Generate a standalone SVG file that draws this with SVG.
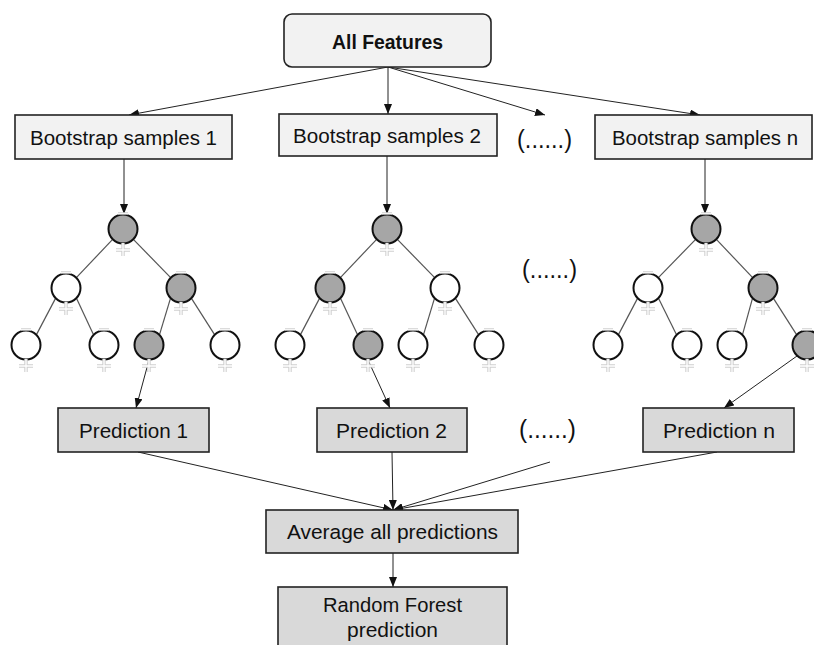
<svg xmlns="http://www.w3.org/2000/svg" xmlns:xlink="http://www.w3.org/1999/xlink" width="814" height="645" viewBox="0 0 814 645">
<style>
  .box{stroke:#222;stroke-width:1.6}
  .light{fill:#f2f2f2}
  .dark{fill:#d9d9d9}
  .t{font-family:"Liberation Sans",Arial,sans-serif;font-size:20.5px;fill:#111;text-anchor:middle}
  .b{font-weight:bold;font-size:19.5px}
  .dots{font-size:25px}
  .arrow{stroke:#222;stroke-width:1;fill:none;marker-end:url(#ah)}
  .edge{stroke:#555;stroke-width:1.2;fill:none}
  .nw{fill:#fff;stroke:#111;stroke-width:2}
  .ng{fill:#a6a6a6;stroke:#111;stroke-width:2}
</style>
<defs>
  <marker id="ah" markerWidth="10" markerHeight="8" refX="10" refY="4" orient="auto" markerUnits="userSpaceOnUse">
    <path d="M0,0 L10,4 L0,8 Z" fill="#111"/>
  </marker>
  <g id="mk">
    <path d="M-5,-15.5 H5" stroke="#cfcfcf" stroke-width="2.5"/>
    <path d="M-5,-15.5 H5" stroke="#fff" stroke-width="0.8"/>
    <path d="M0,14 V27 M-7,21 H7" stroke="#cfcfcf" stroke-width="3.4"/>
    <path d="M0,14 V27 M-7,21 H7" stroke="#fff" stroke-width="1.3"/>
  </g>
</defs>

<g id="connectors">
  <line class="arrow" x1="388" y1="67" x2="129" y2="115"/>
  <line class="arrow" x1="388" y1="67" x2="388" y2="114"/>
  <line class="arrow" x1="388" y1="67" x2="545" y2="115"/>
  <line class="arrow" x1="388" y1="67" x2="700" y2="115"/>
  <line class="arrow" x1="124" y1="159" x2="124" y2="214"/>
  <line class="arrow" x1="387" y1="156" x2="387" y2="214"/>
  <line class="arrow" x1="705" y1="159" x2="705" y2="214"/>
  <line class="edge" x1="112.4" y1="239.6" x2="76.6" y2="277.4"/>
  <line class="edge" x1="133.6" y1="239.6" x2="170.4" y2="277.4"/>
  <line class="edge" x1="55.4" y1="298.6" x2="36.6" y2="334.4"/>
  <line class="edge" x1="76.6" y1="298.6" x2="93.4" y2="334.4"/>
  <line class="edge" x1="170.4" y1="298.6" x2="159.6" y2="334.4"/>
  <line class="edge" x1="191.6" y1="298.6" x2="214.4" y2="334.4"/>
  <line class="edge" x1="376.4" y1="239.6" x2="340.6" y2="277.4"/>
  <line class="edge" x1="397.6" y1="239.6" x2="434.4" y2="277.4"/>
  <line class="edge" x1="319.4" y1="298.6" x2="300.6" y2="334.4"/>
  <line class="edge" x1="340.6" y1="298.6" x2="357.4" y2="334.4"/>
  <line class="edge" x1="434.4" y1="298.6" x2="423.6" y2="334.4"/>
  <line class="edge" x1="455.6" y1="298.6" x2="478.4" y2="334.4"/>
  <line class="edge" x1="695.4" y1="239.6" x2="658.6" y2="277.4"/>
  <line class="edge" x1="716.6" y1="239.6" x2="752.4" y2="277.4"/>
  <line class="edge" x1="637.4" y1="298.6" x2="618.6" y2="334.4"/>
  <line class="edge" x1="658.6" y1="298.6" x2="676.4" y2="334.4"/>
  <line class="edge" x1="752.4" y1="298.6" x2="742.6" y2="334.4"/>
  <line class="edge" x1="773.6" y1="298.6" x2="796.4" y2="334.4"/>
  <line class="arrow" x1="149" y1="360" x2="136" y2="408"/>
  <line class="arrow" x1="368" y1="360" x2="390" y2="408"/>
  <line class="arrow" x1="797" y1="356" x2="724" y2="408"/>
  <line class="arrow" x1="138" y1="452" x2="393" y2="510"/>
  <line class="arrow" x1="392" y1="452" x2="393" y2="510"/>
  <line class="arrow" x1="550" y1="462" x2="393" y2="510"/>
  <line class="arrow" x1="717" y1="452" x2="393" y2="510"/>
  <line class="arrow" x1="393" y1="553" x2="393" y2="587"/>
</g>

<g id="all-features">
  <rect class="box light" x="284" y="14" width="207" height="53" rx="8"/>
  <text class="t b" x="387.5" y="49" textLength="111" lengthAdjust="spacingAndGlyphs">All Features</text>
</g>
<g id="bootstrap-1">
  <rect class="box light" x="15" y="115" width="217" height="44"/>
  <text class="t" x="123.5" y="145" textLength="187" lengthAdjust="spacingAndGlyphs">Bootstrap samples 1</text>
</g>
<g id="bootstrap-2">
  <rect class="box light" x="279" y="114" width="218" height="42"/>
  <text class="t" x="387" y="143" textLength="188" lengthAdjust="spacingAndGlyphs">Bootstrap samples 2</text>
</g>
<g id="dots-top">
  <text class="t dots" x="544.5" y="148" textLength="55" lengthAdjust="spacingAndGlyphs">(......)</text>
</g>
<g id="bootstrap-n">
  <rect class="box light" x="595" y="115" width="217" height="44"/>
  <text class="t" x="705" y="145" textLength="186" lengthAdjust="spacingAndGlyphs">Bootstrap samples n</text>
</g>

<g id="tree-1">
  <circle class="ng" cx="123" cy="229" r="14.5"/><use xlink:href="#mk" x="123" y="229"/>
  <circle class="nw" cx="66" cy="288" r="14.5"/><use xlink:href="#mk" x="66" y="288"/>
  <circle class="ng" cx="181" cy="288" r="14.5"/><use xlink:href="#mk" x="181" y="288"/>
  <circle class="nw" cx="26" cy="345" r="14.5"/><use xlink:href="#mk" x="26" y="345"/>
  <circle class="nw" cx="104" cy="345" r="14.5"/><use xlink:href="#mk" x="104" y="345"/>
  <circle class="ng" cx="149" cy="345" r="14.5"/><use xlink:href="#mk" x="149" y="345"/>
  <circle class="nw" cx="225" cy="345" r="14.5"/><use xlink:href="#mk" x="225" y="345"/>
</g>
<g id="tree-2">
  <circle class="ng" cx="387" cy="229" r="14.5"/><use xlink:href="#mk" x="387" y="229"/>
  <circle class="ng" cx="330" cy="288" r="14.5"/><use xlink:href="#mk" x="330" y="288"/>
  <circle class="nw" cx="445" cy="288" r="14.5"/><use xlink:href="#mk" x="445" y="288"/>
  <circle class="nw" cx="290" cy="345" r="14.5"/><use xlink:href="#mk" x="290" y="345"/>
  <circle class="ng" cx="368" cy="345" r="14.5"/><use xlink:href="#mk" x="368" y="345"/>
  <circle class="nw" cx="413" cy="345" r="14.5"/><use xlink:href="#mk" x="413" y="345"/>
  <circle class="nw" cx="489" cy="345" r="14.5"/><use xlink:href="#mk" x="489" y="345"/>
</g>
<g id="dots-mid">
  <text class="t dots" x="549.5" y="278" textLength="55" lengthAdjust="spacingAndGlyphs">(......)</text>
</g>
<g id="tree-n">
  <circle class="ng" cx="706" cy="229" r="14.5"/><use xlink:href="#mk" x="706" y="229"/>
  <circle class="nw" cx="648" cy="288" r="14.5"/><use xlink:href="#mk" x="648" y="288"/>
  <circle class="ng" cx="763" cy="288" r="14.5"/><use xlink:href="#mk" x="763" y="288"/>
  <circle class="nw" cx="608" cy="345" r="14.5"/><use xlink:href="#mk" x="608" y="345"/>
  <circle class="nw" cx="687" cy="345" r="14.5"/><use xlink:href="#mk" x="687" y="345"/>
  <circle class="nw" cx="732" cy="345" r="14.5"/><use xlink:href="#mk" x="732" y="345"/>
  <circle class="ng" cx="807" cy="345" r="14.5"/><use xlink:href="#mk" x="807" y="345"/>
</g>

<g id="prediction-1">
  <rect class="box dark" x="58" y="408" width="151" height="44"/>
  <text class="t" x="133.5" y="438" textLength="109" lengthAdjust="spacingAndGlyphs">Prediction 1</text>
</g>
<g id="prediction-2">
  <rect class="box dark" x="317" y="408" width="150" height="44"/>
  <text class="t" x="391.5" y="438" textLength="111" lengthAdjust="spacingAndGlyphs">Prediction 2</text>
</g>
<g id="dots-bottom">
  <text class="t dots" x="547.5" y="438" textLength="57" lengthAdjust="spacingAndGlyphs">(......)</text>
</g>
<g id="prediction-n">
  <rect class="box dark" x="643" y="408" width="151" height="44"/>
  <text class="t" x="719" y="438" textLength="112" lengthAdjust="spacingAndGlyphs">Prediction n</text>
</g>
<g id="average">
  <rect class="box dark" x="266" y="510" width="252" height="43"/>
  <text class="t" x="392.5" y="539" textLength="211" lengthAdjust="spacingAndGlyphs">Average all predictions</text>
</g>
<g id="random-forest">
  <rect class="box dark" x="278" y="587" width="229" height="70"/>
  <text class="t" x="392.5" y="612" textLength="139" lengthAdjust="spacingAndGlyphs">Random Forest</text>
  <text class="t" x="392.5" y="637" textLength="91" lengthAdjust="spacingAndGlyphs">prediction</text>
</g>
</svg>
